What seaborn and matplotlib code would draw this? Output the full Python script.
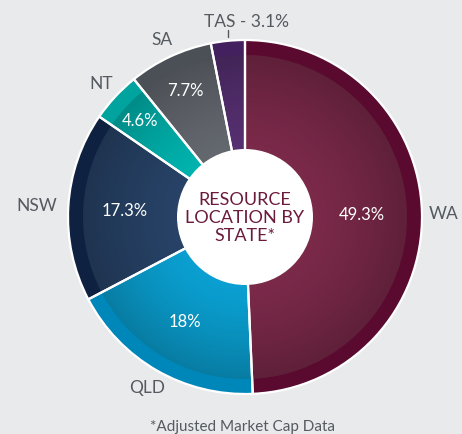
import numpy as np
import matplotlib
matplotlib.use("Agg")
import matplotlib.pyplot as plt
import seaborn as sns
from matplotlib.patches import Circle

# ---- data ----
states = ["WA", "QLD", "NSW", "NT", "SA", "TAS"]
shares = [49.3, 18.0, 17.3, 4.6, 7.7, 3.1]
inner_colors = ["#7a2949", "#0a9fd0", "#274266", "#00b2ad", "#63676e", "#552f70"]
rim_colors = ["#5a0a2f", "#0087ba", "#0e2140", "#00a39e", "#4b4f56", "#43215e"]
show_pct = [True, True, True, True, True, False]
center_title = "RESOURCE\nLOCATION BY\nSTATE*"
footnote = "*Adjusted Market Cap Data"

sns.set_theme(style="white")
plt.rcParams["font.family"] = ["Lato", "DejaVu Sans"]

BG = "#e9eaec"
W, H = 462, 435
fig = plt.figure(figsize=(W / 100, H / 100), dpi=100, facecolor=BG)
ax = fig.add_axes([0, 0, 1, 1])
ax.set_facecolor(BG)

cx, cy = 245, 217
R = 177
R_in = 162
R_hole = 68

# outer rim
ax.pie(shares, colors=rim_colors, startangle=90, counterclock=False,
       radius=R, center=(cx, cy),
       wedgeprops=dict(edgecolor="none", linewidth=0))
# inner lighter body
ax.pie(shares, colors=inner_colors, startangle=90, counterclock=False,
       radius=R_in, center=(cx, cy),
       wedgeprops=dict(edgecolor="none", linewidth=0))

# radial shading overlay
n = 400
xs = np.linspace(cx - R, cx + R, n)
ys = np.linspace(cy - R, cy + R, n)
XX, YY = np.meshgrid(xs, ys)
rr = np.hypot(XX - cx, YY - cy)
t = np.clip((rr - R_hole) / (R_in - R_hole), 0, 1)
alpha = 0.22 * t ** 1.4
img = np.zeros((n, n, 4))
img[..., 3] = alpha
im = ax.imshow(img, extent=(cx - R, cx + R, cy - R, cy + R), origin="lower",
               interpolation="bilinear", zorder=2)
clip = Circle((cx, cy), R_in, transform=ax.transData)
im.set_clip_path(clip)

# white separators on top
wedges, _ = ax.pie(shares, colors=["none"] * len(shares), startangle=90,
                   counterclock=False, radius=R, center=(cx, cy),
                   wedgeprops=dict(edgecolor="white", linewidth=1.6, fill=False))
for w in wedges:
    w.set_zorder(3)

# center hole
ax.add_patch(Circle((cx, cy), R_hole, facecolor="white", edgecolor="none", zorder=4))
ax.text(cx, cy, center_title, ha="center", va="center", fontsize=13,
        color="#6b1a3c", linespacing=1.12, zorder=5)

# labels
label_dist = [1.125, 1.11, 1.18, 1.11, 1.11, 1.11]
pct_dist = [0.66, 0.68, 0.68, 0.81, 0.79, 0.0]
total = sum(shares)
cum = 0.0
for name, v, ld, pdist, sp in zip(states, shares, label_dist, pct_dist, show_pct):
    mid = 90 - 360 * (cum + v / 2) / total
    cum += v
    th = np.deg2rad(mid)
    if name == "TAS":
        x0 = cx + R * 1.015 * np.cos(th)
        ax.plot([x0, x0], [cy + R * 1.015, cy + R * 1.055], color="#555a60", lw=1.0, zorder=5)
        ax.text(x0 + 19, cy + R * 1.11, f"{name} - {v:g}%", ha="center", va="center",
                fontsize=12.5, color="#555a60", zorder=5)
    else:
        ax.text(cx + R * ld * np.cos(th), cy + R * ld * np.sin(th), name,
                ha="center", va="center", fontsize=12.5, color="#555a60", zorder=5)
    if sp:
        ax.text(cx + R * pdist * np.cos(th), cy + R * pdist * np.sin(th), f"{v:g}%",
                ha="center", va="center", fontsize=12, color="white", zorder=5)

ax.text(242, 435 - 427, footnote, ha="center", va="center", fontsize=11,
        color="#555a60", zorder=5)

ax.set_xlim(0, W)
ax.set_ylim(0, H)
ax.set_aspect("auto")
ax.axis("off")

fig.savefig("out.png", dpi=100, facecolor=BG)
